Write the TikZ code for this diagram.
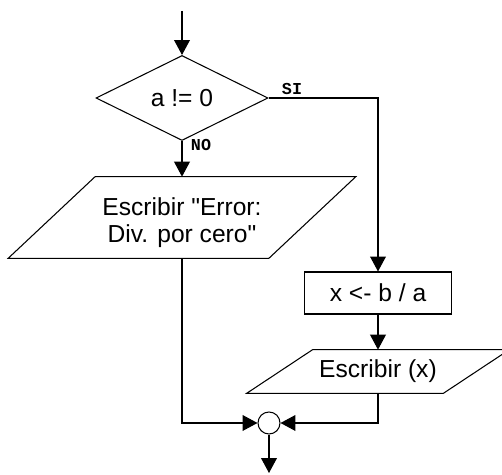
\documentclass[tikz,border=0pt]{standalone}
\usepackage{fontspec}
\setmainfont{Liberation Sans}[Ligatures=TeXOff]
\setmonofont{Liberation Mono}
\usepackage{tikz}
\usetikzlibrary{calc,arrows.meta,shapes.geometric,positioning}
\definecolor{ink}{HTML}{000000}
\newcommand{\flowfont}{\fontsize{14}{15.4}\selectfont}
\tikzset{
  base/.style={draw=ink, line width=0.6pt, line join=miter},
  flow/.style={base, -{Triangle[length=8.5pt,width=9pt]}},
  decision/.style={diamond, base, minimum width=3.44cm, minimum height=1.70cm, inner sep=0pt, font=\flowfont},
  process/.style={rectangle, base, minimum width=2.94cm, minimum height=0.84cm, font=\flowfont},
  io/.style={rectangle, inner sep=0pt, align=center, font=\flowfont},
  joint/.style={circle, base, minimum size=0.44cm, inner sep=0pt},
  lab/.style={text=ink, font=\ttfamily\bfseries\fontsize{9.5}{10}\selectfont},
}

\begin{document}
\begin{tikzpicture}
  \useasboundingbox (0,0) rectangle (10.04,9.50);
  \coordinate (start) at (3.64,9.28);
  \node[decision] (cond) at (3.64,7.54) {a != 0};
  \node[io, minimum width=5.20cm, minimum height=1.62cm] (err) at (3.64,5.15)
    {\raisebox{-0.12cm}[\height][\depth]{\begin{tabular}{@{}c@{}}Escribir "Error:\\Div. por cero"\end{tabular}}};
  \node[process] (calc) at (7.56,3.64) {x <- b / a};
  \node[io, minimum width=3.92cm, minimum height=0.86cm] (out) at (7.56,2.07) {Escribir (x)};
  \node[joint] (join) at (5.38,1.04) {};
  \coordinate (stop) at (5.38,0.04);
  \node[lab] (si) at (5.84,7.71) {SI};
  \node[lab] (no) at (4.02,6.60) {NO};
  % slanted outlines of the i/o boxes
  \foreach \n/\s in {err/0.87,out/0.66}
    \draw[base] ($(\n.south west)+(-\s,0)$) -- ($(\n.north west)+(\s,0)$)
      -- ($(\n.north east)+(\s,0)$) -- ($(\n.south east)+(-\s,0)$) -- cycle;
  \draw[flow] (start) -- (cond.north);
  \draw[flow] (cond.east) -| (calc.north);
  \draw[flow] (cond.south) -- (err.north);
  \draw[flow] (calc.south) -- (out.north);
  \draw[flow] (err.south) |- (join.west);
  \draw[flow] (out.south) |- (join.east);
  \draw[flow] (join.south) -- (stop);
\end{tikzpicture}
\end{document}
